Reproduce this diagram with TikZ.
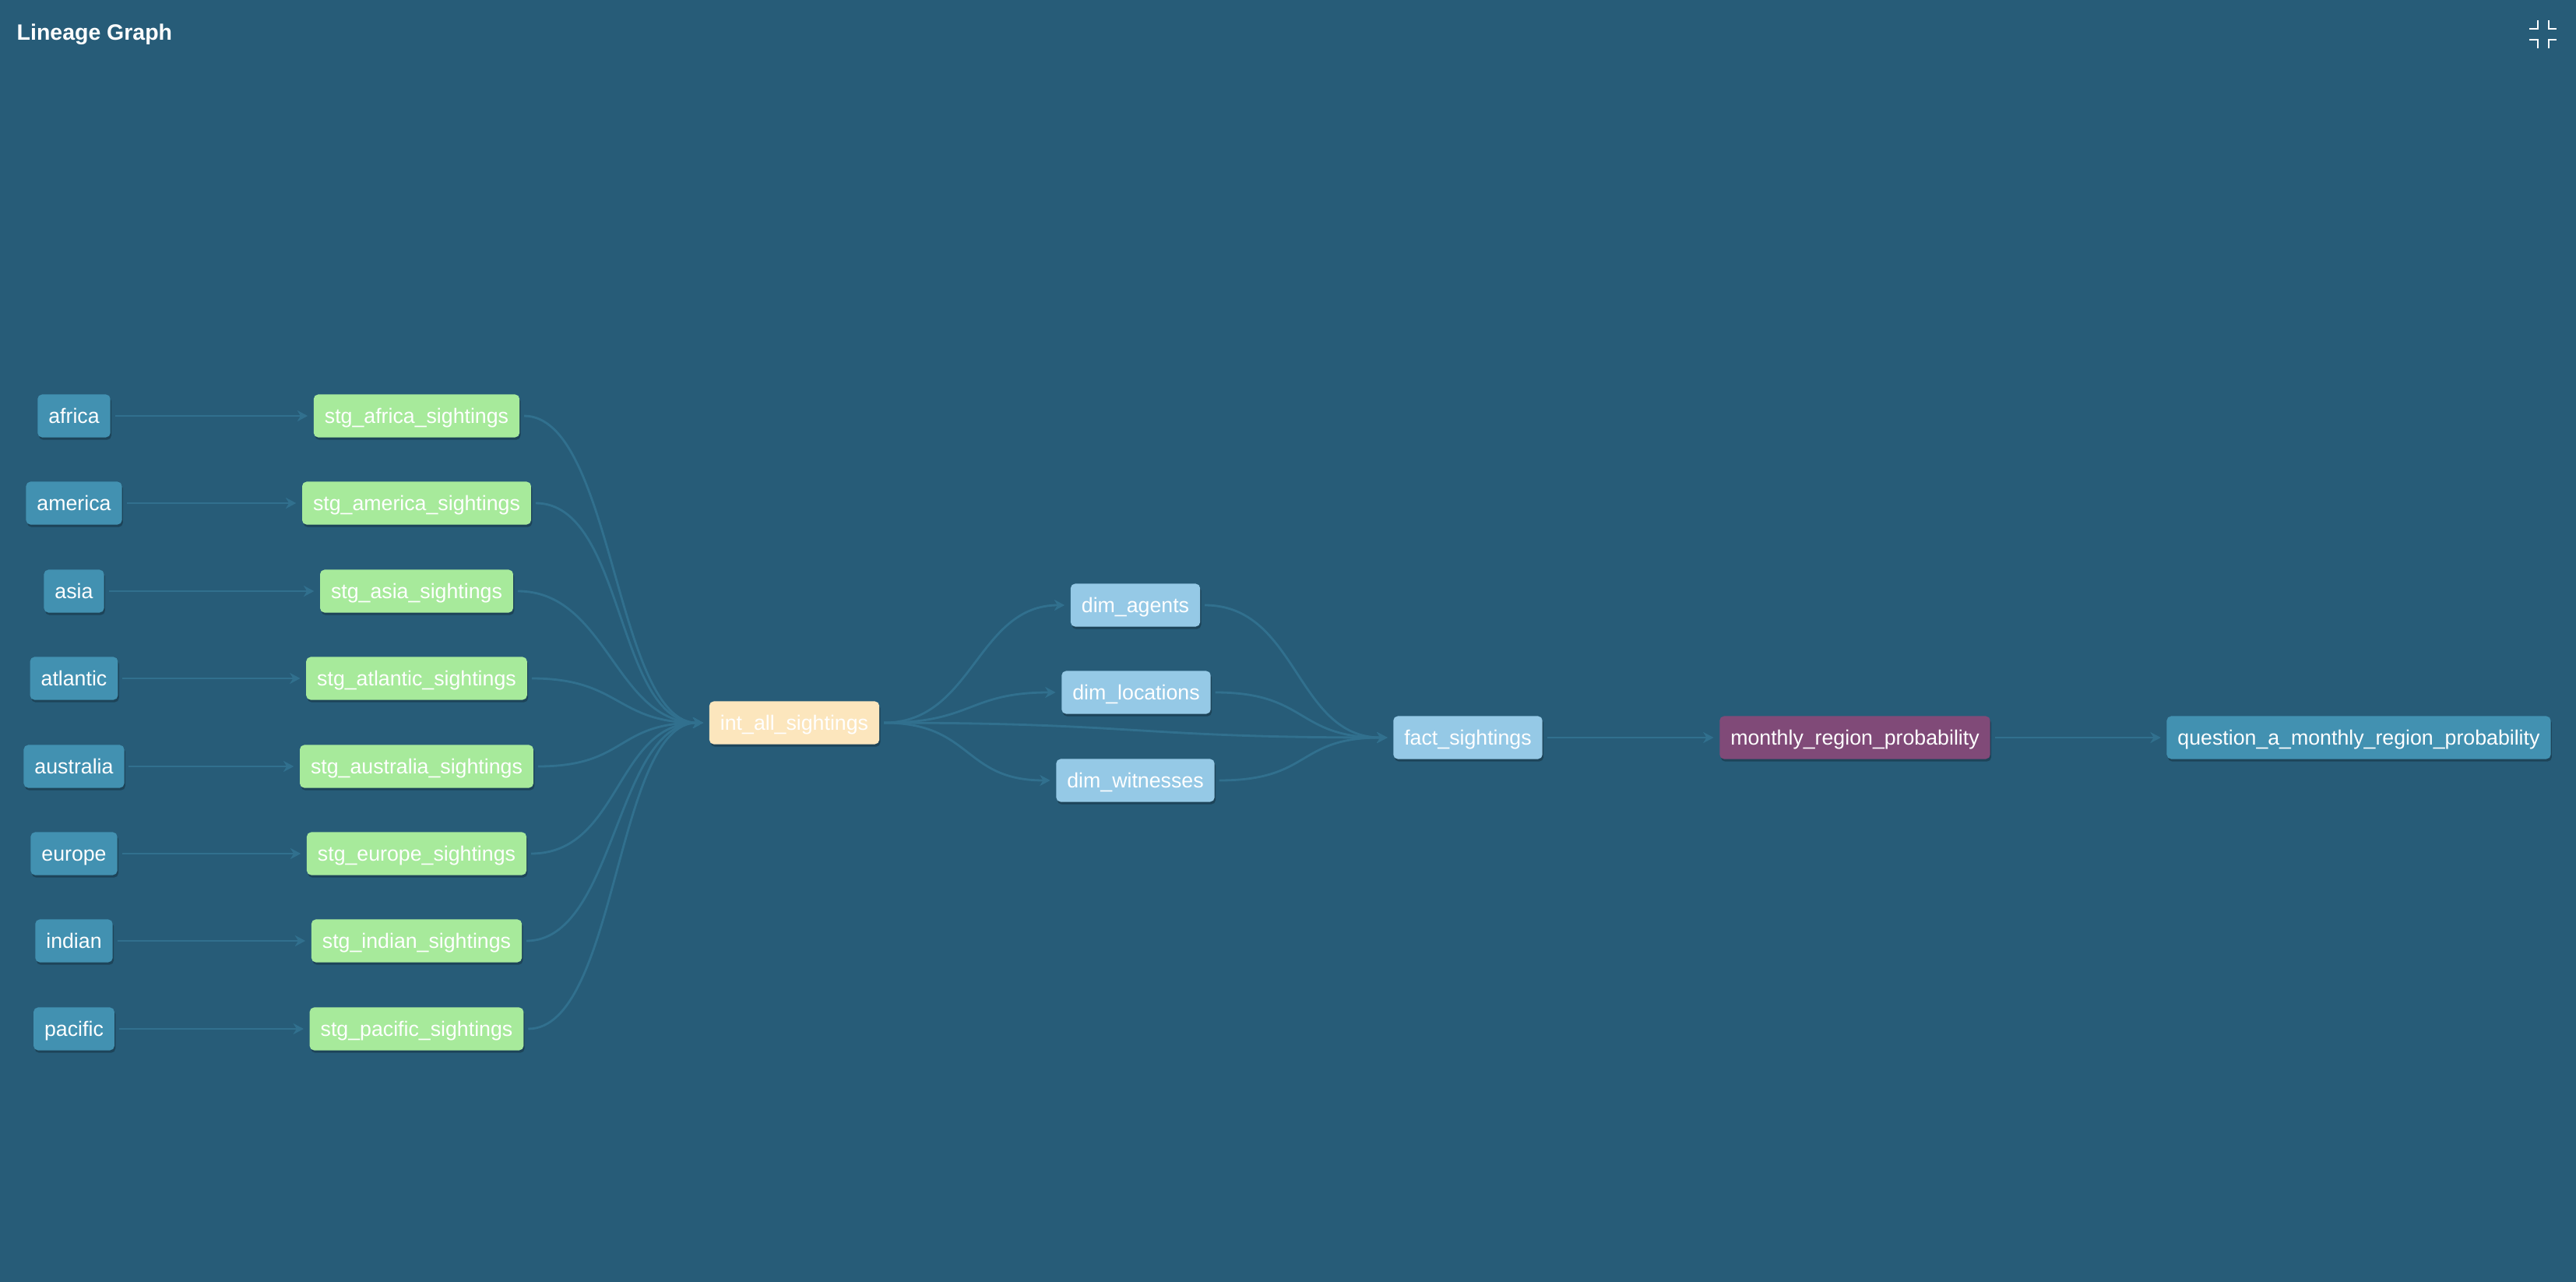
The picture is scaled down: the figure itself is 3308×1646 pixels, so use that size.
\documentclass[tikz,border=0pt]{standalone}
\usepackage{fontspec}
\setmainfont{Liberation Sans}
\usetikzlibrary{arrows.meta,shadows}
\definecolor{bgblue}{HTML}{275C78}
\definecolor{edgeblue}{HTML}{31708E}
\definecolor{srcblue}{HTML}{4291B1}
\definecolor{stggreen}{HTML}{A7EA9B}
\definecolor{intyellow}{HTML}{FCE6BD}
\definecolor{dimblue}{HTML}{95C9E6}
\definecolor{martpurple}{HTML}{804A78}
\tikzset{
  model/.style={rounded corners=1.6pt, minimum height=0.55cm, inner xsep=0.14cm, inner ysep=0pt,
    text height=6.6pt, text depth=1.2pt,
    text=white, font=\fontsize{7.6}{9}\selectfont,
    drop shadow={shadow xshift=0.4pt, shadow yshift=-0.9pt, fill=black, opacity=0.25}},
  source/.style={model, fill=srcblue},
  staging/.style={model, fill=stggreen},
  inter/.style={model, fill=intyellow},
  dim/.style={model, fill=dimblue},
  mart/.style={model, fill=martpurple},
  link/.style={draw=edgeblue, line width=0.8pt, -{Stealth[length=3.8pt,width=4pt,inset=1.2pt]},
    shorten >=2pt, shorten <=1.5pt}
}
\begin{document}
\begin{tikzpicture}[x=0.01cm, y=-0.01cm]
  \fill[bgblue] (0,0) rectangle (3308,1646);
  \useasboundingbox (0,0) rectangle (3308,1646);

  \node[anchor=base west, inner sep=0, text=white, font=\bfseries\fontsize{8.1}{9}\selectfont] (title) at (21,52) {Lineage Graph};
  \draw[white, line width=0.75pt] (3248,37) -- (3259,37) -- (3259,26)
    (3273,26) -- (3273,37) -- (3283,37)
    (3248,51) -- (3259,51) -- (3259,62)
    (3273,62) -- (3273,51) -- (3283,51);

  \node[source] (r1) at (95, 534) {africa};
  \node[source] (r2) at (95, 646) {america};
  \node[source] (r3) at (95, 759) {asia};
  \node[source] (r4) at (95, 871) {atlantic};
  \node[source] (r5) at (95, 984) {australia};
  \node[source] (r6) at (95, 1096) {europe};
  \node[source] (r7) at (95, 1208) {indian};
  \node[source] (r8) at (95, 1321) {pacific};

  \node[staging] (s1) at (535, 534) {stg\_africa\_sightings};
  \node[staging] (s2) at (535, 646) {stg\_america\_sightings};
  \node[staging] (s3) at (535, 759) {stg\_asia\_sightings};
  \node[staging] (s4) at (535, 871) {stg\_atlantic\_sightings};
  \node[staging] (s5) at (535, 984) {stg\_australia\_sightings};
  \node[staging] (s6) at (535, 1096) {stg\_europe\_sightings};
  \node[staging] (s7) at (535, 1208) {stg\_indian\_sightings};
  \node[staging] (s8) at (535, 1321) {stg\_pacific\_sightings};

  \node[inter] (int) at (1020, 928) {int\_all\_sightings};
  \node[dim] (da) at (1458, 777) {dim\_agents};
  \node[dim] (dl) at (1459, 889) {dim\_locations};
  \node[dim] (dw) at (1458, 1002) {dim\_witnesses};
  \node[dim] (fact) at (1885, 947) {fact\_sightings};
  \node[mart] (mrp) at (2382, 947) {monthly\_region\_probability};
  \node[source] (qmrp) at (3029, 947) {question\_a\_monthly\_region\_probability};

  \draw[link] (r1) -- (s1);
  \draw[link] (r2) -- (s2);
  \draw[link] (r3) -- (s3);
  \draw[link] (r4) -- (s4);
  \draw[link] (r5) -- (s5);
  \draw[link] (r6) -- (s6);
  \draw[link] (r7) -- (s7);
  \draw[link] (r8) -- (s8);

  \draw[link] (s1.east) .. controls +(120,0) and +(-120,0) .. (int.west);
  \draw[link] (s2.east) .. controls +(120,0) and +(-120,0) .. (int.west);
  \draw[link] (s3.east) .. controls +(120,0) and +(-120,0) .. (int.west);
  \draw[link] (s4.east) .. controls +(120,0) and +(-120,0) .. (int.west);
  \draw[link] (s5.east) .. controls +(120,0) and +(-120,0) .. (int.west);
  \draw[link] (s6.east) .. controls +(120,0) and +(-120,0) .. (int.west);
  \draw[link] (s7.east) .. controls +(120,0) and +(-120,0) .. (int.west);
  \draw[link] (s8.east) .. controls +(120,0) and +(-120,0) .. (int.west);

  \draw[link] (int.east) .. controls +(120,0) and +(-120,0) .. (da.west);
  \draw[link] (int.east) .. controls +(120,0) and +(-120,0) .. (dl.west);
  \draw[link] (int.east) .. controls +(120,0) and +(-120,0) .. (dw.west);
  \draw[link] (int.east) .. controls +(330,0) and +(-330,0) .. (fact.west);
  \draw[link] (da.east) .. controls +(125,0) and +(-125,0) .. (fact.west);
  \draw[link] (dl.east) .. controls +(125,0) and +(-125,0) .. (fact.west);
  \draw[link] (dw.east) .. controls +(125,0) and +(-125,0) .. (fact.west);
  \draw[link] (fact) -- (mrp);
  \draw[link] (mrp) -- (qmrp);
\end{tikzpicture}
\end{document}
